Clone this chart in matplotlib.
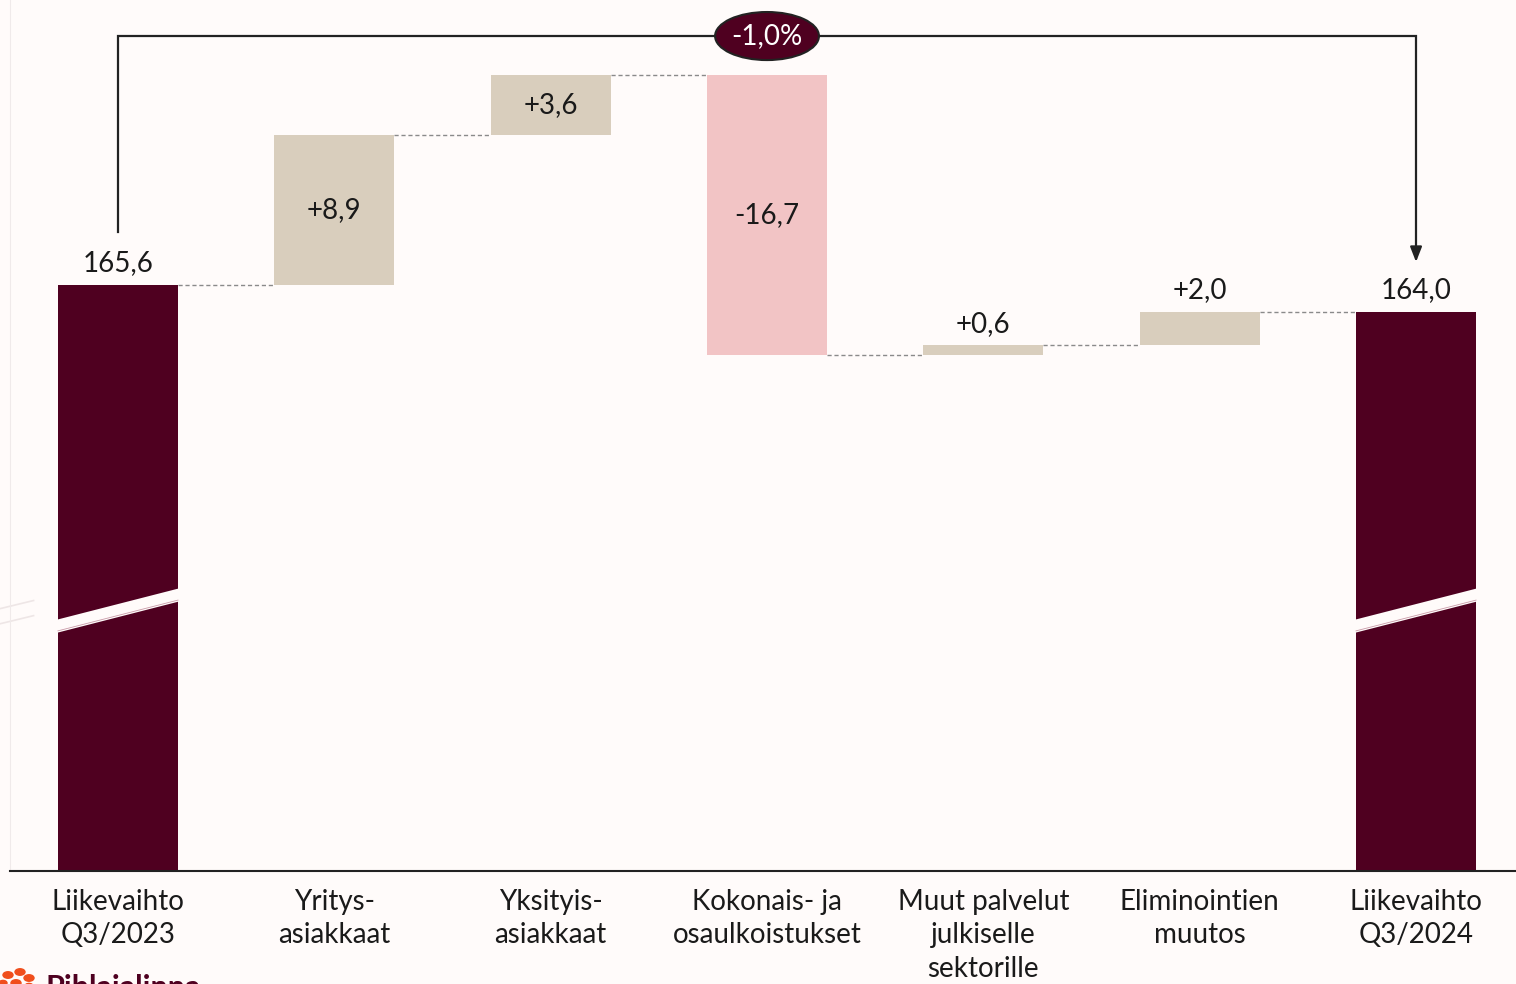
import numpy as np
import matplotlib.pyplot as plt
from matplotlib.patches import Ellipse, Polygon

# datos del puente de liikevaihto
categorias = ["Liikevaihto\nQ3/2023", "Yritys-\nasiakkaat", "Yksityis-\nasiakkaat",
              "Kokonais- ja\nosaulkoistukset", "Muut palvelut\njulkiselle\nsektorille",
              "Eliminointien\nmuutos", "Liikevaihto\nQ3/2024"]
inicio = 165.6
cambios = [8.9, 3.6, -16.7, 0.6, 2.0]
final = 164.0
etiquetas = ["165,6", "+8,9", "+3,6", "-16,7", "+0,6", "+2,0", "164,0"]
variacion = "-1,0%"

MARRON = "#4F0020"
BEIGE = "#D9CEBD"
ROSA = "#F2C4C5"
FONDO = "#FFFBFA"

plt.rcParams['font.family'] = ['Lato', 'DejaVu Sans']

fig = plt.figure(figsize=(15.16, 9.84), dpi=100, facecolor=FONDO)
ax = fig.add_axes([10/1516, 113/984, 1 - 10/1516, 871/984])
ax.set_facecolor(FONDO)

base = 130.7
ax.set_ylim(base, base + 871/16.8)
ax.set_xlim(-0.499, 6.462)
ancho = 0.555

x = np.arange(len(categorias))
# barras totales
for i, v in [(0, inicio), (6, final)]:
    ax.bar(x[i], v - base, bottom=base, width=ancho, color=MARRON, zorder=2)

# barras intermedias
nivel = inicio
niveles = [inicio]
for j, c in enumerate(cambios):
    col = ROSA if c < 0 else BEIGE
    ax.bar(x[j + 1], c, bottom=nivel, width=ancho, color=col, zorder=2)
    nivel += c
    niveles.append(nivel)

# conectores discontinuos
for i in range(len(niveles)):
    ax.plot([x[i] + ancho/2, x[i + 1] - ancho/2], [niveles[i], niveles[i]],
            ls=(0, (3, 2)), color="#8a8a8a", lw=1, zorder=1)

# etiquetas de valor
fs = 20
ax.annotate(etiquetas[0], (x[0], inicio), xytext=(0, 6), textcoords="offset points",
            ha="center", va="bottom", fontsize=fs, color="#1a1a1a")
ax.annotate(etiquetas[6], (x[6], final), xytext=(0, 6), textcoords="offset points",
            ha="center", va="bottom", fontsize=fs, color="#1a1a1a")
for j, c in enumerate(cambios):
    lo, hi = sorted([niveles[j], niveles[j + 1]])
    if abs(c) > 3:
        ax.text(x[j + 1], (lo + hi)/2, etiquetas[j + 1], ha="center", va="center",
                fontsize=fs, color="#1a1a1a")
    else:
        ax.annotate(etiquetas[j + 1], (x[j + 1], hi), xytext=(0, 6),
                    textcoords="offset points", ha="center", va="bottom",
                    fontsize=fs, color="#1a1a1a")

# corte del eje en las barras totales
yc = 146.2      # centro de la banda blanca
pend = 3.3      # unidades y por unidad x
h = 0.78        # grosor de la banda
for i in [0, 6]:
    x0, x1 = x[i] - ancho/2 - 0.05, x[i] + ancho/2 + 0.05
    y0 = yc - pend*(x1 - x[i])
    y1 = yc + pend*(x1 - x[i])
    ax.add_patch(Polygon([[x0, y0 + h/2], [x1, y1 + h/2], [x1, y1 - h/2], [x0, y0 - h/2]],
                         closed=True, color=FONDO, zorder=3, lw=0))
    xa, xb = x[i] - ancho/2, x[i] + ancho/2
    ax.plot([xa, xb], [yc - pend*ancho/2 - h/2 + 0.1, yc + pend*ancho/2 - h/2 + 0.1],
            color="#c99aa8", lw=0.6, zorder=4)

# marcas de corte en el eje izquierdo
for dy in [0.35, -0.55]:
    ax.plot([-0.55, -0.39], [yc + dy - 0.25, yc + dy + 0.25], color="#eee6e6", lw=1.2,
            clip_on=False, zorder=1)

# corchete superior con flecha
ytop = 180.4
ax.plot([x[0], x[0], x[6], x[6]], [inicio + 3.15, ytop, ytop, final + 3.6],
        color="#222222", lw=1.6, zorder=2, solid_joinstyle="miter")
ax.annotate("", xy=(x[6], final + 2.95), xytext=(x[6], final + 3.7),
            arrowprops=dict(arrowstyle="-|>,head_length=0.9,head_width=0.35",
                            color="#222222", lw=1.6, shrinkA=0, shrinkB=0))
ax.add_patch(Ellipse((x[3], ytop), 0.48, 2.86, facecolor=MARRON,
                     edgecolor="#222222", lw=1.5, zorder=5))
ax.text(x[3], ytop, variacion, ha="center", va="center", color="white",
        fontsize=fs, zorder=6)

# ejes
ax.set_xticks(x)
ax.set_xticklabels(categorias, fontsize=fs, color="#1a1a1a", linespacing=1.35)
ax.tick_params(axis="x", length=0, pad=13)
ax.set_yticks([])
for s in ["top", "right"]:
    ax.spines[s].set_visible(False)
ax.spines["left"].set_color("#f0eaea")
ax.spines["bottom"].set_color("#222222")
ax.spines["bottom"].set_linewidth(1.5)

# logo cortado abajo a la izquierda
for (px, py, r) in [(8, 975, 5), (20, 972, 5), (29, 978, 5), (3, 983, 4), (16, 983, 5), (29, 986, 4)]:
    fig.add_artist(plt.Circle((px/1516, 1 - py/984), r/1516, color="#F04E1C",
                              transform=fig.transFigure))
fig.text(45/1516, 1 - 974/984, "Pihlajalinna", fontsize=22, fontweight="bold",
         color=MARRON, va="top", ha="left")

fig.savefig("out.png", dpi=100, facecolor=FONDO)
